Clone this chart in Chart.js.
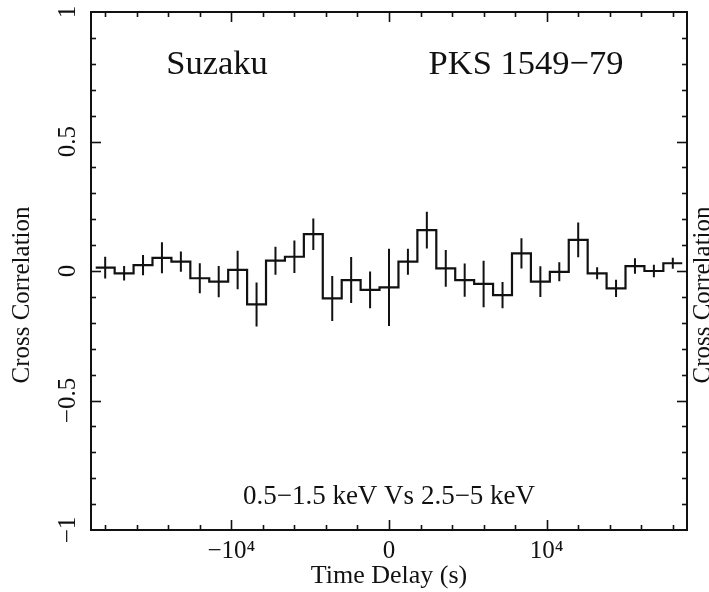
<!DOCTYPE html>
<html>
<head>
<meta charset="utf-8">
<script src="https://cdn.jsdelivr.net/npm/chart.js@4/dist/chart.umd.min.js"></script>
<style>
  html, body { margin: 0; padding: 0; background: #fff; }
  #wrap { width: 709px; height: 592px; position: relative; }
</style>
</head>
<body>
<div id="wrap"><canvas id="c" width="709" height="592"></canvas></div>
<script>
// ---- Data ----
const delays = [-18000, -16800, -15600, -14400, -13200, -12000, -10800, -9600, -8400, -7200,
                -6000, -4800, -3600, -2400, -1200, 0, 1200, 2400, 3600, 4800,
                6000, 7200, 8400, 9600, 10800, 12000, 13200, 14400, 15600, 16800, 18000];
const correlation = [0.013, -0.009, 0.023, 0.051, 0.036, -0.028, -0.041, 0.004, -0.129, 0.040,
                     0.055, 0.142, -0.106, -0.035, -0.073, -0.063, 0.036, 0.158, 0.010, -0.035,
                     -0.050, -0.093, 0.068, -0.041, -0.003, 0.120, -0.009, -0.067, 0.019, 0.000, 0.030];
const errors = [0.042, 0.028, 0.039, 0.060, 0.039, 0.058, 0.060, 0.074, 0.085, 0.054,
                0.063, 0.061, 0.087, 0.089, 0.071, 0.149, 0.050, 0.071, 0.071, 0.064,
                0.090, 0.051, 0.058, 0.059, 0.037, 0.067, 0.023, 0.033, 0.030, 0.024, 0.021];
const binWidth = 1200;
const xTickValues = [-10000, 0, 10000];
const xTickText = ['\u221210\u2074', '0', '10\u2074'];
const yTickValues = [-1, -0.5, 0, 0.5, 1];
const yTickText = ['\u22121', '\u22120.5', '0', '0.5', '1'];
const titleLeft = 'Suzaku';
const titleRight = 'PKS 1549\u221279';
const bandLabel = '0.5\u22121.5 keV Vs 2.5\u22125 keV';
const xAxisTitle = 'Time Delay (s)';
const yAxisTitle = 'Cross Correlation';

// ---- Build library data from the arrays ----
const stepPoints = [];
delays.forEach((d, i) => {
  stepPoints.push({x: d - binWidth / 2, y: correlation[i]});
  stepPoints.push({x: d + binWidth / 2, y: correlation[i]});
});
const errPoints = [];
delays.forEach((d, i) => {
  errPoints.push({x: d, y: correlation[i] - errors[i]});
  errPoints.push({x: d, y: correlation[i] + errors[i]});
  errPoints.push({x: d, y: null});
});

const SERIF = '"Liberation Serif", "DejaVu Serif", "Times New Roman", serif';
const INK = '#111';

const framePlugin = {
  id: 'frame',
  afterDatasetsDraw(chart) {
    const {ctx, chartArea: a, scales: {x, y}} = chart;
    ctx.save();
    ctx.strokeStyle = INK;
    ctx.lineCap = 'butt';
    ctx.lineWidth = 1.6;
    const seg = (x1, y1, x2, y2) => { ctx.beginPath(); ctx.moveTo(x1, y1); ctx.lineTo(x2, y2); ctx.stroke(); };
    // x ticks every 2000, major every 10000
    for (let v = -18000; v <= 18000; v += 2000) {
      const px = Math.round(x.getPixelForValue(v)) + 0.5;
      const len = (v % 10000 === 0) ? 10 : 5;
      seg(px, a.bottom, px, a.bottom - len);
      seg(px, a.top, px, a.top + len);
    }
    // y ticks every 0.1, major every 0.5
    for (let k = -9; k <= 9; k++) {
      const py = Math.round(y.getPixelForValue(k / 10)) + 0.5;
      const len = (k % 5 === 0) ? 10 : 5;
      seg(a.left, py, a.left + len, py);
      seg(a.right, py, a.right - len, py);
    }
    ctx.lineWidth = 2;
    ctx.strokeRect(a.left, a.top, a.right - a.left, a.bottom - a.top);
    ctx.restore();
  },
  afterDraw(chart) {
    const {ctx, chartArea: a} = chart;
    ctx.save();
    ctx.fillStyle = INK;
    ctx.textAlign = 'center';
    ctx.textBaseline = 'middle';
    ctx.font = '34.5px ' + SERIF;
    ctx.fillText(titleLeft, 217, 65);
    ctx.fillText(titleRight, 526, 65);
    ctx.font = '27px ' + SERIF;
    ctx.fillText(bandLabel, (a.left + a.right) / 2, 497);
    // rotated axis titles
    ctx.font = '25px ' + SERIF;
    ctx.save();
    ctx.translate(22, 295);
    ctx.rotate(-Math.PI / 2);
    ctx.fillText(yAxisTitle, 0, 0);
    ctx.restore();
    ctx.save();
    ctx.translate(703, 295);
    ctx.rotate(-Math.PI / 2);
    ctx.fillText(yAxisTitle, 0, 0);
    ctx.restore();
    ctx.restore();
  }
};

new Chart(document.getElementById('c'), {
  type: 'line',
  data: {
    datasets: [
      {
        data: stepPoints,
        borderColor: INK,
        borderWidth: 2.2,
        pointRadius: 0,
        tension: 0,
        fill: false
      },
      {
        data: errPoints,
        borderColor: INK,
        borderWidth: 2,
        pointRadius: 0,
        tension: 0,
        spanGaps: false,
        fill: false
      }
    ]
  },
  options: {
    responsive: false,
    animation: false,
    devicePixelRatio: 1,
    layout: { padding: { top: 12, right: 22, left: 0, bottom: 0 } },
    plugins: { legend: { display: false }, tooltip: { enabled: false } },
    scales: {
      x: {
        type: 'linear',
        min: -18900,
        max: 18900,
        grid: { display: false, drawTicks: false },
        border: { display: false },
        afterBuildTicks(s) { s.ticks = xTickValues.map(v => ({value: v})); },
        ticks: {
          autoSkip: false,
          maxRotation: 0,
          padding: 6,
          color: INK,
          font: { family: SERIF, size: 25 },
          callback: (v, i) => xTickText[i]
        },
        title: {
          display: true,
          text: xAxisTitle,
          color: INK,
          font: { family: SERIF, size: 26 },
          padding: { top: 0, bottom: 0 }
        },
        afterFit(s) { s.height = 62; s.paddingLeft = 0; s.paddingRight = 0; }
      },
      y: {
        type: 'linear',
        min: -1,
        max: 1,
        grid: { display: false, drawTicks: false },
        border: { display: false },
        afterBuildTicks(s) { s.ticks = yTickValues.map(v => ({value: v})); },
        ticks: {
          autoSkip: false,
          minRotation: 90,
          maxRotation: 90,
          crossAlign: 'center',
          padding: 0,
          color: INK,
          font: { family: SERIF, size: 25 },
          callback: (v, i) => yTickText[i]
        },
        afterFit(s) { s.width = 91; s.paddingTop = 0; s.paddingBottom = 0; }
      }
    }
  },
  plugins: [framePlugin]
});
</script>
</body>
</html>
